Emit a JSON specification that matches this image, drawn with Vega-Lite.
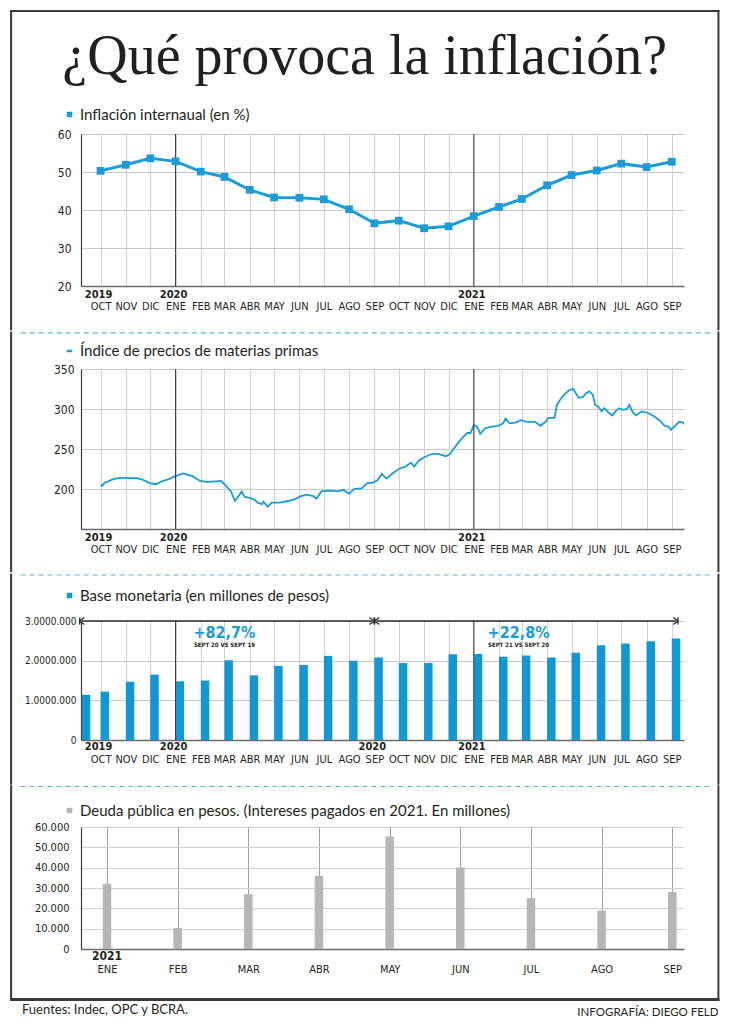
{
"$schema": "https://vega.github.io/schema/vega-lite/v6.json",
"background": "white",
"padding": {"left": 10, "right": 11, "top": 10, "bottom": 3},
"title": {"text": "¿Qué provoca la inflación?", "font": "Liberation Serif", "fontSize": 56, "fontWeight": "normal", "color": "#231f20", "anchor": "middle", "offset": -76},
"config": {
  "font": "Lato",
  "view": {"stroke": null},
  "locale": {"number": {"decimal": ",", "thousands": ".", "grouping": [3], "currency": ["$", ""]}},
  "axis": {"labelFont": "DejaVu Sans Condensed", "labelColor": "#231f20", "ticks": false, "labelOverlap": false, "labelFlush": false},
  "legend": {"labelFont": "Lato", "labelFontSize": 15, "labelColor": "#231f20", "labelOffset": 3, "padding": 0, "labelLimit": 600},
  "concat": {"spacing": 0}
},
"resolve": {"scale": {"color": "independent"}, "legend": {"color": "independent"}},
"datasets": {
  "inflacion": [
    {"fecha":"2019-10-01","valor":50.3},{"fecha":"2019-11-01","valor":51.9},{"fecha":"2019-12-01","valor":53.6},
    {"fecha":"2020-01-01","valor":52.8},{"fecha":"2020-02-01","valor":50.1},{"fecha":"2020-03-01","valor":48.7},
    {"fecha":"2020-04-01","valor":45.3},{"fecha":"2020-05-01","valor":43.3},{"fecha":"2020-06-01","valor":43.2},
    {"fecha":"2020-07-01","valor":42.8},{"fecha":"2020-08-01","valor":40.2},{"fecha":"2020-09-01","valor":36.5},
    {"fecha":"2020-10-01","valor":37.2},{"fecha":"2020-11-01","valor":35.2},{"fecha":"2020-12-01","valor":35.7},
    {"fecha":"2021-01-01","valor":38.4},{"fecha":"2021-02-01","valor":40.8},{"fecha":"2021-03-01","valor":42.9},
    {"fecha":"2021-04-01","valor":46.5},{"fecha":"2021-05-01","valor":49.2},{"fecha":"2021-06-01","valor":50.4},
    {"fecha":"2021-07-01","valor":52.2},{"fecha":"2021-08-01","valor":51.3},{"fecha":"2021-09-01","valor":52.7}
  ],
  "materias": [
    {"fecha":"2019-10-01","valor":205},{"fecha":"2019-10-03","valor":204},{"fecha":"2019-10-06","valor":208},
    {"fecha":"2019-10-09","valor":209},{"fecha":"2019-10-16","valor":212},{"fecha":"2019-10-24","valor":214},
    {"fecha":"2019-11-01","valor":214},{"fecha":"2019-11-08","valor":213.5},{"fecha":"2019-11-15","valor":213.5},
    {"fecha":"2019-11-23","valor":211},{"fecha":"2019-12-01","valor":207},{"fecha":"2019-12-08","valor":206},
    {"fecha":"2019-12-15","valor":209.5},{"fecha":"2019-12-23","valor":212},{"fecha":"2020-01-01","valor":216},
    {"fecha":"2020-01-10","valor":219.5},{"fecha":"2020-01-15","valor":218},{"fecha":"2020-01-22","valor":216},
    {"fecha":"2020-01-31","valor":210},{"fecha":"2020-02-09","valor":209},{"fecha":"2020-02-19","valor":209.5},
    {"fecha":"2020-02-26","valor":210},{"fecha":"2020-03-02","valor":205},{"fecha":"2020-03-09","valor":197},
    {"fecha":"2020-03-14","valor":185},{"fecha":"2020-03-19","valor":192},{"fecha":"2020-03-22","valor":197},
    {"fecha":"2020-03-26","valor":190},{"fecha":"2020-04-01","valor":189},{"fecha":"2020-04-06","valor":187},
    {"fecha":"2020-04-11","valor":183},{"fecha":"2020-04-16","valor":181},{"fecha":"2020-04-18","valor":184},
    {"fecha":"2020-04-23","valor":178},{"fecha":"2020-04-28","valor":183},{"fecha":"2020-05-08","valor":183},
    {"fecha":"2020-05-18","valor":185},{"fecha":"2020-05-26","valor":187},{"fecha":"2020-06-03","valor":191},
    {"fecha":"2020-06-10","valor":193},{"fecha":"2020-06-18","valor":191},{"fecha":"2020-06-22","valor":188},
    {"fecha":"2020-06-28","valor":197},{"fecha":"2020-07-08","valor":198},{"fecha":"2020-07-18","valor":197},
    {"fecha":"2020-07-25","valor":199},{"fecha":"2020-08-01","valor":194},{"fecha":"2020-08-07","valor":200},
    {"fecha":"2020-08-17","valor":201},{"fecha":"2020-08-23","valor":207},{"fecha":"2020-08-30","valor":208},
    {"fecha":"2020-09-05","valor":211},{"fecha":"2020-09-10","valor":219},{"fecha":"2020-09-16","valor":213},
    {"fecha":"2020-09-24","valor":220},{"fecha":"2020-10-01","valor":225},{"fecha":"2020-10-09","valor":228},
    {"fecha":"2020-10-16","valor":233},{"fecha":"2020-10-20","valor":228},{"fecha":"2020-10-26","valor":236},
    {"fecha":"2020-11-02","valor":240},{"fecha":"2020-11-11","valor":244},{"fecha":"2020-11-18","valor":244},
    {"fecha":"2020-11-28","valor":241},{"fecha":"2020-12-03","valor":244},{"fecha":"2020-12-08","valor":251},
    {"fecha":"2020-12-13","valor":258},{"fecha":"2020-12-18","valor":264},{"fecha":"2020-12-24","valor":270},
    {"fecha":"2020-12-28","valor":270},{"fecha":"2021-01-01","valor":280},{"fecha":"2021-01-05","valor":278},
    {"fecha":"2021-01-09","valor":269},{"fecha":"2021-01-15","valor":276},{"fecha":"2021-01-23","valor":278},
    {"fecha":"2021-01-31","valor":279},{"fecha":"2021-02-06","valor":282},{"fecha":"2021-02-09","valor":288},
    {"fecha":"2021-02-14","valor":282},{"fecha":"2021-02-21","valor":283},{"fecha":"2021-02-28","valor":286},
    {"fecha":"2021-03-07","valor":284},{"fecha":"2021-03-17","valor":284},{"fecha":"2021-03-24","valor":279},
    {"fecha":"2021-03-30","valor":284},{"fecha":"2021-04-03","valor":289},{"fecha":"2021-04-10","valor":289},
    {"fecha":"2021-04-13","valor":305},{"fecha":"2021-04-18","valor":313},{"fecha":"2021-04-24","valor":320},
    {"fecha":"2021-04-29","valor":324},{"fecha":"2021-05-03","valor":325},{"fecha":"2021-05-06","valor":320},
    {"fecha":"2021-05-10","valor":314},{"fecha":"2021-05-15","valor":315},{"fecha":"2021-05-19","valor":320},
    {"fecha":"2021-05-23","valor":322},{"fecha":"2021-05-27","valor":318},{"fecha":"2021-05-30","valor":305},
    {"fecha":"2021-06-03","valor":303},{"fecha":"2021-06-07","valor":297},{"fecha":"2021-06-10","valor":301},
    {"fecha":"2021-06-15","valor":296},{"fecha":"2021-06-20","valor":292},{"fecha":"2021-06-24","valor":297},
    {"fecha":"2021-06-28","valor":301},{"fecha":"2021-07-03","valor":299},{"fecha":"2021-07-08","valor":300},
    {"fecha":"2021-07-11","valor":305},{"fecha":"2021-07-15","valor":296},{"fecha":"2021-07-19","valor":292},
    {"fecha":"2021-07-26","valor":297},{"fecha":"2021-08-03","valor":295},{"fecha":"2021-08-10","valor":291},
    {"fecha":"2021-08-17","valor":286},{"fecha":"2021-08-23","valor":279},{"fecha":"2021-08-28","valor":278},
    {"fecha":"2021-08-31","valor":274},{"fecha":"2021-09-05","valor":279},{"fecha":"2021-09-10","valor":284},
    {"fecha":"2021-09-15","valor":283},{"fecha":"2021-09-20","valor":276}
  ],
  "base": [
    {"fecha":"2019-09-08","valor":1140000},{"fecha":"2019-10-01","valor":1220000},{"fecha":"2019-11-01","valor":1470000},
    {"fecha":"2019-12-01","valor":1650000},{"fecha":"2020-01-01","valor":1480000},{"fecha":"2020-02-01","valor":1500000},
    {"fecha":"2020-03-01","valor":2010000},{"fecha":"2020-04-01","valor":1630000},{"fecha":"2020-05-01","valor":1870000},
    {"fecha":"2020-06-01","valor":1890000},{"fecha":"2020-07-01","valor":2120000},{"fecha":"2020-08-01","valor":2000000},
    {"fecha":"2020-09-01","valor":2080000},{"fecha":"2020-10-01","valor":1940000},{"fecha":"2020-11-01","valor":1940000},
    {"fecha":"2020-12-01","valor":2160000},{"fecha":"2021-01-01","valor":2170000},{"fecha":"2021-02-01","valor":2100000},
    {"fecha":"2021-03-01","valor":2130000},{"fecha":"2021-04-01","valor":2080000},{"fecha":"2021-05-01","valor":2200000},
    {"fecha":"2021-06-01","valor":2390000},{"fecha":"2021-07-01","valor":2430000},{"fecha":"2021-08-01","valor":2490000},
    {"fecha":"2021-09-01","valor":2560000}
  ],
  "deuda": [
    {"mes":1,"valor":32100},{"mes":2,"valor":10400},{"mes":3,"valor":27000},
    {"mes":4,"valor":36000},{"mes":5,"valor":55300},{"mes":6,"valor":40100},
    {"mes":7,"valor":25000},{"mes":8,"valor":18900},{"mes":9,"valor":28000}
  ],
  "cortes": [{"fecha":"2020-01-01"},{"fecha":"2021-01-01"}],
  "anios": [{"fecha":"2019-10-01","anio":"2019"},{"fecha":"2020-01-01","anio":"2020"},{"fecha":"2021-01-01","anio":"2021"}],
  "anios3": [{"fecha":"2019-10-01","anio":"2019"},{"fecha":"2020-01-01","anio":"2020"},{"fecha":"2020-09-01","anio":"2020"},{"fecha":"2021-01-01","anio":"2021"}],
  "anio4": [{"mes":1,"anio":"2021"}],
  "flechas": [{"desde":"2019-09-08","hasta":"2020-08-29"},{"desde":"2020-09-04","hasta":"2021-09-06"}],
  "notas": [{"fecha":"2020-03-01","pct":"+82,7%","nota":"SEPT 20 VS SEPT 19"},{"fecha":"2021-02-25","pct":"+22,8%","nota":"SEPT 21 VS SEPT 20"}],
  "separador": [{"tipo":"separador"}]
},
"vconcat": [
  {
    "width": 603, "height": 152,
    "layer": [
      {"data": {"name": "inflacion"}, "mark": {"type": "line", "color": "#1a9cd8", "strokeWidth": 3},
       "encoding": {
         "x": {"field": "fecha", "type": "temporal", "scale": {"type": "utc", "domain": ["2019-09-07", "2021-09-16"], "nice": false},
               "axis": {"title": null, "tickCount": {"interval": "month", "step": 1}, "labelExpr": "['ENE','FEB','MAR','ABR','MAY','JUN','JUL','AGO','SEP','OCT','NOV','DIC'][utcmonth(datum.value)]", "labelPadding": 14, "labelFontSize": 11, "labelOverlap": false, "grid": true, "gridColor": "#d2d2d2", "domainColor": "#6a6a6a", "domainWidth": 1.5}},
         "y": {"field": "valor", "type": "quantitative", "scale": {"domain": [20, 60], "nice": false},
               "axis": {"title": null, "values": [20, 30, 40, 50, 60], "tickCount": 20, "labelOverlap": false, "labelPadding": 10, "labelFontSize": 12, "gridColor": "#c8c8c8", "domainColor": "#3c3c3c", "domainWidth": 1.2}}
       }},
      {"data": {"name": "cortes"}, "mark": {"type": "rule", "color": "#3d3d3d", "strokeWidth": 1}, "encoding": {"x": {"field": "fecha", "type": "temporal"}}},
      {"data": {"name": "inflacion"}, "mark": {"type": "square", "size": 60, "opacity": 1},
       "encoding": {
         "x": {"field": "fecha", "type": "temporal"},
         "y": {"field": "valor", "type": "quantitative"},
         "color": {"datum": "Inflación internaual (en %)", "type": "nominal", "scale": {"range": ["#1a9cd8"]},
                   "legend": {"title": null, "orient": "none", "legendX": -19, "legendY": -27, "symbolType": "square", "symbolSize": 30}}
       }},
      {"data": {"name": "anios"}, "mark": {"type": "text", "font": "DejaVu Sans Condensed", "fontWeight": "bold", "fontSize": 11, "baseline": "middle", "dy": 9, "dx": -2, "color": "#231f20"},
       "encoding": {"x": {"field": "fecha", "type": "temporal"}, "y": {"datum": 20}, "text": {"field": "anio"}}},
      {"data": {"name": "separador"}, "mark": {"type": "rect", "color": "#3b3b3b"},
       "encoding": {"x": {"datum": {"year": 2019, "month": 6, "date": 12, "utc": true}, "type": "temporal"}, "x2": {"datum": {"year": 2021, "month": 10, "date": 29, "hours": 12, "utc": true}}, "y": {"datum": 92.63}, "y2": {"datum": 92.105}}},
      {"data": {"name": "separador"}, "mark": {"type": "rect", "color": "#3b3b3b"},
       "encoding": {"x": {"datum": {"year": 2019, "month": 6, "date": 12, "utc": true}, "type": "temporal"}, "x2": {"datum": {"year": 2019, "month": 6, "date": 14, "hours": 12, "utc": true}}, "y": {"datum": 92.63}, "y2": {"datum": 8.34}}},
      {"data": {"name": "separador"}, "mark": {"type": "rect", "color": "#3b3b3b"},
       "encoding": {"x": {"datum": {"year": 2021, "month": 10, "date": 27, "utc": true}, "type": "temporal"}, "x2": {"datum": {"year": 2021, "month": 10, "date": 29, "hours": 12, "utc": true}}, "y": {"datum": 92.63}, "y2": {"datum": 8.34}}}
    ]
  },
  {
    "width": 603, "height": 160,
    "layer": [
      {"data": {"name": "materias"}, "mark": {"type": "line", "strokeWidth": 1.8, "clip": true},
       "encoding": {
         "x": {"field": "fecha", "type": "temporal", "scale": {"type": "utc", "domain": ["2019-09-07", "2021-09-16"], "nice": false},
               "axis": {"title": null, "tickCount": {"interval": "month", "step": 1}, "labelExpr": "['ENE','FEB','MAR','ABR','MAY','JUN','JUL','AGO','SEP','OCT','NOV','DIC'][utcmonth(datum.value)]", "labelPadding": 14, "labelFontSize": 11, "labelOverlap": false, "grid": true, "gridColor": "#d2d2d2", "domainColor": "#6a6a6a", "domainWidth": 1.5}},
         "y": {"field": "valor", "type": "quantitative", "scale": {"domain": [150, 350], "nice": false},
               "axis": {"title": null, "values": [200, 250, 300, 350], "tickCount": 20, "labelOverlap": false, "labelPadding": 7, "labelFontSize": 12, "gridColor": "#c8c8c8", "domainColor": "#3c3c3c", "domainWidth": 1.2}},
         "color": {"datum": "Índice de precios de materias primas", "type": "nominal", "scale": {"range": ["#1a9cd8"]},
                   "legend": {"title": null, "orient": "none", "legendX": -19, "legendY": -25.5, "symbolType": "stroke", "symbolSize": 30, "symbolStrokeWidth": 2.5}}
       }},
      {"data": {"name": "cortes"}, "mark": {"type": "rule", "color": "#3d3d3d", "strokeWidth": 1}, "encoding": {"x": {"field": "fecha", "type": "temporal"}}},
      {"data": {"name": "separador"}, "mark": {"type": "rule", "color": "#4cb6e0", "strokeWidth": 1.2, "strokeDash": [5, 4]},
       "encoding": {"x": {"datum": {"year": 2019, "month": 6, "date": 25, "utc": true}, "type": "temporal"}, "x2": {"datum": {"year": 2021, "month": 10, "date": 21, "utc": true}}, "y": {"datum": 395.25}}},
      {"data": {"name": "anios"}, "mark": {"type": "text", "font": "DejaVu Sans Condensed", "fontWeight": "bold", "fontSize": 11, "baseline": "middle", "dy": 9, "dx": -2, "color": "#231f20"},
       "encoding": {"x": {"field": "fecha", "type": "temporal"}, "y": {"datum": 150}, "text": {"field": "anio"}}},
      {"data": {"name": "separador"}, "mark": {"type": "rect", "color": "#3b3b3b"},
       "encoding": {"x": {"datum": {"year": 2019, "month": 6, "date": 12, "utc": true}, "type": "temporal"}, "x2": {"datum": {"year": 2019, "month": 6, "date": 14, "hours": 12, "utc": true}}, "y": {"datum": 396.875}, "y2": {"datum": 96}}},
      {"data": {"name": "separador"}, "mark": {"type": "rect", "color": "#3b3b3b"},
       "encoding": {"x": {"datum": {"year": 2021, "month": 10, "date": 27, "utc": true}, "type": "temporal"}, "x2": {"datum": {"year": 2021, "month": 10, "date": 29, "hours": 12, "utc": true}}, "y": {"datum": 396.875}, "y2": {"datum": 96}}}
    ]
  },
  {
    "width": 603, "height": 119,
    "layer": [
      {"data": {"name": "base"}, "mark": {"type": "bar", "width": 8.5, "xOffset": 4.25},
       "encoding": {
         "x": {"field": "fecha", "type": "temporal", "scale": {"type": "utc", "domain": ["2019-09-07", "2021-09-16"], "padding": 0, "nice": false},
               "axis": {"title": null, "tickCount": {"interval": "month", "step": 1}, "labelExpr": "['ENE','FEB','MAR','ABR','MAY','JUN','JUL','AGO','SEP','OCT','NOV','DIC'][utcmonth(datum.value)]", "labelPadding": 13, "labelFontSize": 11, "labelOverlap": false, "grid": true, "gridColor": "#d2d2d2", "domainColor": "#6a6a6a", "domainWidth": 1.5}},
         "y": {"field": "valor", "type": "quantitative", "scale": {"domain": [0, 3000000], "nice": false},
               "axis": {"title": null, "values": [0, 1000000, 2000000, 3000000], "tickCount": 20, "labelOverlap": false, "labelExpr": "datum.value == 0 ? '0' : format(datum.value / 1000000, 'd') + '.0000.000'", "labelPadding": 5, "labelFontSize": 10, "gridColor": "#c8c8c8", "domainColor": "#3c3c3c", "domainWidth": 1.2}},
         "color": {"datum": "Base monetaria (en millones de pesos)", "type": "nominal", "scale": {"range": ["#0f97d6"]},
                   "legend": {"title": null, "orient": "none", "legendX": -19, "legendY": -33, "symbolType": "square", "symbolSize": 30}}
       }},
      {"data": {"name": "cortes"}, "mark": {"type": "rule", "color": "#3d3d3d", "strokeWidth": 1}, "encoding": {"x": {"field": "fecha", "type": "temporal"}}},
      {"data": {"name": "separador"}, "mark": {"type": "rule", "color": "#4cb6e0", "strokeWidth": 1.2, "strokeDash": [5, 4]},
       "encoding": {"x": {"datum": {"year": 2019, "month": 6, "date": 25, "utc": true}, "type": "temporal"}, "x2": {"datum": {"year": 2021, "month": 10, "date": 21, "utc": true}}, "y": {"datum": 4159700}}},
      {"data": {"name": "flechas"}, "mark": {"type": "rule", "color": "#2b2b2b", "strokeWidth": 1.3},
       "encoding": {"x": {"field": "desde", "type": "temporal"}, "x2": {"field": "hasta"}, "y": {"datum": 3000000}}},
      {"data": {"name": "flechas"}, "mark": {"type": "point", "shape": "M-0.6,-1L-0.6,1M0.7,-1L-0.6,0L0.7,1", "filled": false, "size": 50, "stroke": "#2b2b2b", "strokeWidth": 1.3, "opacity": 1},
       "encoding": {"x": {"field": "desde", "type": "temporal"}, "y": {"datum": 3000000}}},
      {"data": {"name": "flechas"}, "mark": {"type": "point", "shape": "M0.6,-1L0.6,1M-0.7,-1L0.6,0L-0.7,1", "filled": false, "size": 50, "stroke": "#2b2b2b", "strokeWidth": 1.3, "opacity": 1},
       "encoding": {"x": {"field": "hasta", "type": "temporal"}, "y": {"datum": 3000000}}},
      {"data": {"name": "notas"}, "mark": {"type": "text", "font": "DejaVu Sans Condensed", "fontWeight": "bold", "fontSize": 16, "baseline": "middle", "color": "#1a9cd8"},
       "encoding": {"x": {"field": "fecha", "type": "temporal"}, "y": {"datum": 2710000}, "text": {"field": "pct"}}},
      {"data": {"name": "notas"}, "mark": {"type": "text", "font": "DejaVu Sans Condensed", "fontWeight": "bold", "fontSize": 6, "baseline": "middle", "color": "#231f20"},
       "encoding": {"x": {"field": "fecha", "type": "temporal"}, "y": {"datum": 2400000}, "text": {"field": "nota"}}},
      {"data": {"name": "anios3"}, "mark": {"type": "text", "font": "DejaVu Sans Condensed", "fontWeight": "bold", "fontSize": 11, "baseline": "middle", "dy": 7, "dx": -2, "color": "#231f20"},
       "encoding": {"x": {"field": "fecha", "type": "temporal"}, "y": {"datum": 0}, "text": {"field": "anio"}}},
      {"data": {"name": "separador"}, "mark": {"type": "rect", "color": "#3b3b3b"},
       "encoding": {"x": {"datum": {"year": 2019, "month": 6, "date": 12, "utc": true}, "type": "temporal"}, "x2": {"datum": {"year": 2019, "month": 6, "date": 14, "hours": 12, "utc": true}}, "y": {"datum": 4192400}, "y2": {"datum": -1126900}}},
      {"data": {"name": "separador"}, "mark": {"type": "rect", "color": "#3b3b3b"},
       "encoding": {"x": {"datum": {"year": 2021, "month": 10, "date": 27, "utc": true}, "type": "temporal"}, "x2": {"datum": {"year": 2021, "month": 10, "date": 29, "hours": 12, "utc": true}}, "y": {"datum": 4192400}, "y2": {"datum": -1126900}}}
    ]
  },
  {
    "width": 603, "height": 122,
    "title": {"text": "Fuentes: Indec, OPC y BCRA.", "orient": "bottom", "anchor": "start", "frame": "group", "dx": -59, "offset": -14, "font": "Lato", "fontSize": 13, "fontWeight": "normal", "color": "#231f20"},
    "layer": [
      {"data": {"name": "deuda"}, "mark": {"type": "bar", "width": 8.5},
       "encoding": {
         "x": {"field": "mes", "type": "quantitative", "scale": {"domain": [0.632, 9.166], "nice": false, "zero": false, "padding": 0},
               "axis": {"title": "INFOGRAFÍA: DIEGO FELD", "titleFont": "Lato", "titleFontSize": 11.5, "titleFontWeight": "normal", "titleColor": "#231f20", "titleAlign": "right", "titleAnchor": "end", "titleX": 637, "titleY": 63, "titleBaseline": "middle",
                        "values": [1, 2, 3, 4, 5, 6, 7, 8, 9], "tickCount": 20, "labelExpr": "['','ENE','FEB','MAR','ABR','MAY','JUN','JUL','AGO','SEP'][datum.value]", "labelPadding": 14, "labelFontSize": 11, "labelOverlap": false, "grid": true, "gridColor": "#a0a0a0", "domainColor": "#6a6a6a", "domainWidth": 1.5}},
         "y": {"field": "valor", "type": "quantitative", "scale": {"domain": [0, 60000], "nice": false},
               "axis": {"title": null, "values": [0, 10000, 20000, 30000, 40000, 50000, 60000], "tickCount": 20, "labelOverlap": false, "format": ",d", "labelPadding": 12, "labelFontSize": 11, "gridColor": "#cfcfcf", "domainColor": "#3c3c3c", "domainWidth": 1.2}},
         "color": {"datum": "Deuda pública en pesos. (Intereses pagados en 2021. En millones)", "type": "nominal", "scale": {"range": ["#b6b6b9"]},
                   "legend": {"title": null, "orient": "none", "legendX": -19, "legendY": -24, "symbolType": "square", "symbolSize": 30}}
       }},
      {"data": {"name": "separador"}, "mark": {"type": "rule", "color": "#4cb6e0", "strokeWidth": 1.2, "strokeDash": [5, 4]},
       "encoding": {"x": {"datum": -0.227}, "x2": {"datum": 9.566}, "y": {"datum": 79918}}},
      {"data": {"name": "anio4"}, "mark": {"type": "text", "font": "DejaVu Sans Condensed", "fontWeight": "bold", "fontSize": 12, "baseline": "middle", "dy": 7, "color": "#231f20"},
       "encoding": {"x": {"field": "mes", "type": "quantitative"}, "y": {"datum": 0}, "text": {"field": "anio"}}},
      {"data": {"name": "separador"}, "mark": {"type": "rect", "color": "#3b3b3b"},
       "encoding": {"x": {"datum": -0.3714}, "x2": {"datum": -0.3425}, "y": {"datum": 80557}, "y2": {"datum": -25574}}},
      {"data": {"name": "separador"}, "mark": {"type": "rect", "color": "#3b3b3b"},
       "encoding": {"x": {"datum": 9.6385}, "x2": {"datum": 9.6668}, "y": {"datum": 80557}, "y2": {"datum": -25574}}},
      {"data": {"name": "separador"}, "mark": {"type": "rect", "color": "#3b3b3b"},
       "encoding": {"x": {"datum": -0.3714}, "x2": {"datum": 9.6668}, "y": {"datum": -24098}, "y2": {"datum": -25574}}}
    ]
  }
]
}
